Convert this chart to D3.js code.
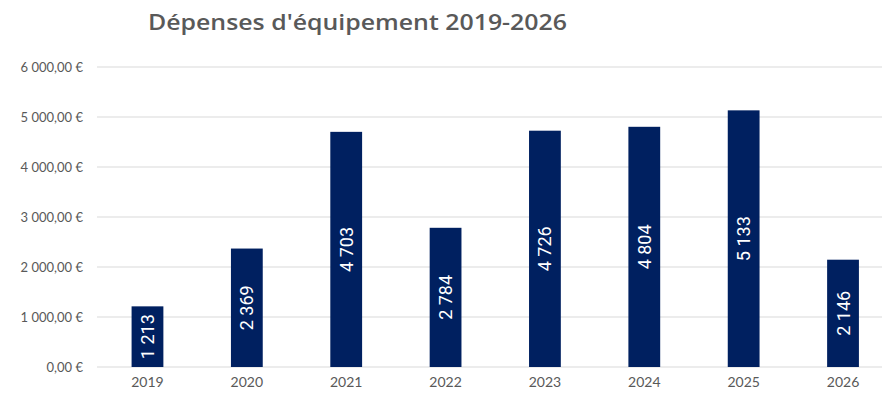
<!DOCTYPE html>
<html>
<head>
<meta charset="utf-8">
<script src="https://cdn.jsdelivr.net/npm/d3@7"></script>
<style>
  body { margin: 0; background: #fff; }
  svg { display: block; }
</style>
</head>
<body>
<svg id="chart" width="882" height="393"></svg>
<script>
const title = "Dépenses d'équipement 2019-2026";
const years = ["2019", "2020", "2021", "2022", "2023", "2024", "2025", "2026"];
const values = [1213, 2369, 4703, 2784, 4726, 4804, 5133, 2146];
const yTicks = [0, 1000, 2000, 3000, 4000, 5000, 6000];

const W = 882, H = 393;
const svg = d3.select("#chart");

const x = d3.scaleBand().domain(years).range([97.8, 892.7]).paddingInner(0.68).paddingOuter(0.34);
const y = d3.scaleLinear().domain([0, 6000]).range([367, 67]);

const frLocale = d3.formatLocale({ decimal: ",", thousands: "\u00a0", grouping: [3], currency: ["", "\u00a0€"] });
const fmtAxis = frLocale.format(",.2f");
const fmtLabel = frLocale.format(",d");

// Title (wide geometric look: glyphs stretched horizontally)
svg.append("text")
  .attr("x", 357.5).attr("y", 30)
  .attr("text-anchor", "middle")
  .attr("font-family", "'Open Sans', Lato, sans-serif")
  .attr("font-weight", 600)
  .attr("font-size", 21)
  .attr("fill", "#595959")
  .attr("textLength", 419)
  .attr("lengthAdjust", "spacingAndGlyphs")
  .text(title);

// Gridlines
svg.append("g")
  .selectAll("line").data(yTicks).join("line")
  .attr("x1", 97).attr("x2", W)
  .attr("y1", d => y(d)).attr("y2", d => y(d))
  .attr("stroke", "#d9d9d9").attr("stroke-width", 1);

// Y axis labels
const yAxis = d3.axisLeft(y).tickValues(yTicks).tickSize(0).tickPadding(0)
  .tickFormat(d => fmtAxis(d) + "\u00a0€");
svg.append("g").attr("transform", "translate(83,0)").call(yAxis)
  .call(g => g.select(".domain").remove())
  .selectAll("text")
  .attr("font-family", "Lato, 'Open Sans', sans-serif")
  .attr("font-size", 13)
  .attr("fill", "#595959");

// X axis labels
const xAxis = d3.axisBottom(x).tickSize(0).tickPadding(10);
svg.append("g").attr("transform", `translate(0,${y(0)})`).call(xAxis)
  .call(g => g.select(".domain").remove())
  .selectAll("text")
  .attr("font-family", "Lato, 'Open Sans', sans-serif")
  .attr("font-size", 14)
  .attr("fill", "#595959");

// Bars
svg.append("g").selectAll("rect").data(values).join("rect")
  .attr("x", (d, i) => x(years[i]))
  .attr("width", x.bandwidth())
  .attr("y", d => y(d))
  .attr("height", d => y(0) - y(d))
  .attr("fill", "#002060");

// Value labels inside bars, rotated
svg.append("g").selectAll("text").data(values).join("text")
  .attr("transform", (d, i) => {
    const cx = x(years[i]) + x.bandwidth() / 2;
    const cy = (y(d) + y(0)) / 2;
    return `translate(${cx},${cy}) rotate(-90)`;
  })
  .attr("text-anchor", "middle")
  .attr("dominant-baseline", "central")
  .attr("font-family", "'Liberation Sans Narrow', 'Roboto', sans-serif")
  .attr("font-size", 18)
  .attr("fill", "#ffffff")
  .text(d => fmtLabel(d));
</script>
</body>
</html>
